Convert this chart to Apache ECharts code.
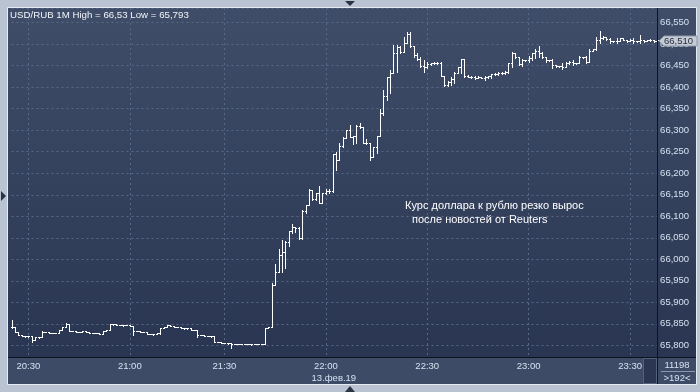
<!DOCTYPE html>
<html><head><meta charset="utf-8">
<script src="https://cdn.jsdelivr.net/npm/echarts@6/dist/echarts.min.js"></script>
<style>html,body{margin:0;padding:0;background:#b9c3d1;overflow:hidden}#c{width:700px;height:392px}</style>
</head><body><div id="c"></div>
<script>
// ---- data ----
const titleText = "USD/RUB 1M High = 66,53 Low = 65,793";
const noteLine1 = "Курс доллара к рублю резко вырос";
const noteLine2 = "после новостей от Reuters";
const dateLabel = "13.фев.19";
const totalCount = "11198";
const visibleCount = ">192<";
const startTime = "20:25";
const skippedMinutes = ["21:14", "21:23"];
const barCount = 192;
const tickLabels = ["20:30", "21:00", "21:30", "22:00", "22:30", "23:00", "23:30"];

const openV = [
65.842,65.842,65.831,65.824,65.821,65.821,65.821,65.812,65.819,65.819,
65.831,65.831,65.829,65.828,65.828,65.835,65.842,65.849,65.833,65.833,
65.831,65.831,65.833,65.831,65.829,65.828,65.828,65.826,65.833,65.835,
65.849,65.849,65.847,65.847,65.847,65.847,65.845,65.833,65.833,65.831,
65.831,65.826,65.826,65.826,65.828,65.840,65.842,65.847,65.845,65.842,
65.842,65.840,65.840,65.840,65.835,65.835,65.824,65.824,65.821,65.821,
65.821,65.807,65.807,65.805,65.805,65.805,65.803,65.803,65.803,65.803,
65.802,65.803,65.802,65.803,65.802,65.803,65.840,65.842,65.940,65.970,
66.010,66.017,66.040,66.066,66.075,66.073,66.049,66.112,66.126,66.161,
66.140,66.154,66.131,66.154,66.159,66.159,66.245,66.231,66.263,66.282,
66.300,66.284,66.286,66.310,66.308,66.270,66.270,66.238,66.261,66.286,
66.340,66.380,66.424,66.433,66.480,66.493,66.482,66.503,66.524,66.496,
66.475,66.466,66.449,66.447,66.454,66.456,66.456,66.456,66.426,66.405,
66.412,66.419,66.433,66.447,66.466,66.426,66.424,66.424,66.421,66.424,
66.421,66.424,66.426,66.431,66.431,66.433,66.433,66.435,66.456,66.480,
66.470,66.454,66.463,66.463,66.468,66.480,66.484,66.480,66.470,66.463,
66.463,66.452,66.449,66.449,66.447,66.456,66.459,66.456,66.456,66.470,
66.470,66.459,66.484,66.489,66.510,66.514,66.517,66.512,66.507,66.507,
66.507,66.514,66.510,66.507,66.510,66.507,66.507,66.510,66.507,66.510,
66.510,66.507];
const highV = [
65.859,65.842,65.831,65.824,65.822,65.822,65.821,65.819,65.819,65.833,
65.832,65.831,65.829,65.829,65.835,65.842,65.852,65.849,65.834,65.833,
65.832,65.833,65.833,65.831,65.829,65.829,65.828,65.833,65.835,65.849,
65.850,65.849,65.848,65.847,65.848,65.847,65.845,65.834,65.833,65.831,
65.831,65.827,65.826,65.828,65.840,65.842,65.847,65.847,65.845,65.843,
65.842,65.841,65.840,65.840,65.836,65.835,65.824,65.824,65.822,65.821,
65.821,65.808,65.807,65.806,65.805,65.805,65.804,65.803,65.804,65.803,
65.803,65.803,65.803,65.803,65.803,65.840,65.842,65.945,65.989,66.024,
66.045,66.042,66.066,66.082,66.075,66.075,66.114,66.126,66.163,66.161,
66.154,66.170,66.154,66.163,66.163,66.245,66.249,66.270,66.284,66.300,
66.312,66.286,66.312,66.317,66.308,66.280,66.270,66.261,66.286,66.349,
66.393,66.424,66.440,66.498,66.498,66.496,66.517,66.528,66.528,66.496,
66.480,66.470,66.463,66.459,66.456,66.459,66.459,66.459,66.426,66.415,
66.424,66.435,66.447,66.466,66.466,66.428,66.426,66.426,66.426,66.424,
66.426,66.426,66.431,66.433,66.435,66.435,66.438,66.456,66.482,66.480,
66.470,66.466,66.464,66.473,66.480,66.489,66.496,66.482,66.470,66.464,
66.466,66.452,66.450,66.456,66.459,66.461,66.463,66.457,66.473,66.471,
66.473,66.489,66.489,66.517,66.530,66.519,66.517,66.514,66.508,66.514,
66.514,66.514,66.510,66.511,66.514,66.508,66.521,66.510,66.510,66.511,
66.510,66.511];
const lowV = [
65.840,65.830,65.824,65.821,65.820,65.820,65.807,65.812,65.817,65.819,
65.830,65.828,65.828,65.828,65.828,65.835,65.842,65.833,65.833,65.831,
65.831,65.831,65.831,65.828,65.828,65.828,65.826,65.826,65.833,65.835,
65.848,65.847,65.847,65.846,65.847,65.845,65.824,65.833,65.831,65.830,
65.826,65.826,65.825,65.826,65.826,65.840,65.842,65.845,65.842,65.842,
65.840,65.839,65.839,65.835,65.835,65.819,65.823,65.821,65.821,65.820,
65.807,65.807,65.805,65.805,65.804,65.793,65.803,65.802,65.803,65.802,
65.802,65.801,65.802,65.802,65.802,65.803,65.840,65.842,65.940,65.970,
65.970,65.980,66.031,66.061,66.063,66.047,66.047,66.107,66.126,66.138,
66.138,66.131,66.131,66.152,66.154,66.156,66.207,66.231,66.261,66.282,
66.284,66.268,66.270,66.305,66.270,66.268,66.231,66.238,66.247,66.286,
66.335,66.370,66.387,66.433,66.435,66.480,66.482,66.503,66.493,66.470,
66.463,66.447,66.435,66.445,66.452,66.454,66.454,66.426,66.403,66.403,
66.405,66.410,66.433,66.433,66.424,66.424,66.421,66.419,66.421,66.421,
66.417,66.421,66.421,66.429,66.428,66.431,66.431,66.433,66.447,66.468,
66.452,66.449,66.462,66.459,66.463,66.468,66.470,66.468,66.459,66.461,
66.445,66.447,66.448,66.442,66.447,66.454,66.452,66.455,66.456,66.468,
66.456,66.459,66.484,66.487,66.503,66.512,66.510,66.503,66.506,66.503,
66.507,66.509,66.506,66.507,66.503,66.505,66.503,66.506,66.507,66.508,
66.506,66.507];
const closeV = [
65.842,65.831,65.824,65.821,65.821,65.821,65.812,65.819,65.819,65.831,
65.831,65.829,65.828,65.828,65.835,65.842,65.849,65.833,65.833,65.831,
65.831,65.833,65.831,65.829,65.828,65.828,65.826,65.833,65.835,65.849,
65.849,65.847,65.847,65.847,65.847,65.845,65.833,65.833,65.831,65.831,
65.826,65.826,65.826,65.828,65.840,65.842,65.847,65.845,65.842,65.842,
65.840,65.840,65.840,65.835,65.835,65.824,65.824,65.821,65.821,65.821,
65.807,65.807,65.805,65.805,65.805,65.803,65.803,65.803,65.803,65.802,
65.803,65.802,65.803,65.802,65.803,65.840,65.842,65.940,65.970,66.010,
66.017,66.040,66.066,66.075,66.073,66.049,66.112,66.126,66.161,66.140,
66.154,66.131,66.154,66.159,66.159,66.245,66.231,66.263,66.282,66.300,
66.284,66.286,66.310,66.308,66.270,66.270,66.238,66.261,66.286,66.340,
66.380,66.424,66.433,66.480,66.493,66.482,66.503,66.524,66.496,66.475,
66.466,66.449,66.447,66.454,66.456,66.456,66.456,66.426,66.405,66.412,
66.419,66.433,66.447,66.466,66.426,66.424,66.424,66.421,66.424,66.421,
66.424,66.426,66.431,66.431,66.433,66.433,66.435,66.456,66.480,66.470,
66.454,66.463,66.463,66.468,66.480,66.484,66.480,66.470,66.463,66.463,
66.452,66.449,66.449,66.447,66.456,66.459,66.456,66.456,66.470,66.470,
66.459,66.484,66.489,66.510,66.514,66.517,66.512,66.507,66.507,66.507,
66.514,66.510,66.507,66.510,66.507,66.507,66.510,66.507,66.510,66.510,
66.507,66.510];

// ---- categories (one per minute bar) ----
function buildCategories() {
  const out = [];
  let [h, m] = startTime.split(':').map(Number);
  while (out.length < barCount) {
    const s = String(h).padStart(2, '0') + ':' + String(m).padStart(2, '0');
    if (!skippedMinutes.includes(s)) out.push(s);
    m++; if (m === 60) { m = 0; h++; }
  }
  return out;
}
const categories = buildCategories();
const ohlc = categories.map((c, i) => [i, openV[i], highV[i], lowV[i], closeV[i]]);

const FONT = '"Liberation Sans", Arial, sans-serif';
const LABEL_COLOR = '#d6e1f1';
const isTick = (idx, val) => tickLabels.includes(categories[idx] !== undefined ? categories[idx] : val);

function renderBar(params, api) {
  const i = api.value(0);
  const pO = api.coord([i, api.value(1)]);
  const pH = api.coord([i, api.value(2)]);
  const pL = api.coord([i, api.value(3)]);
  const pC = api.coord([i, api.value(4)]);
  const x = Math.round(pO[0]) - 0;
  const yh = Math.round(pH[1]), yl = Math.round(pL[1]);
  const yo = Math.round(pO[1]), yc = Math.round(pC[1]);
  const st = { fill: '#ffffff' };
  return { type: 'group', children: [
    { type: 'rect', shape: { x: x, y: yh, width: 1, height: Math.max(1, yl - yh + 1) }, style: st },
    { type: 'rect', shape: { x: x - 1, y: yo, width: 1, height: 1 }, style: st },
    { type: 'rect', shape: { x: x + 1, y: yc, width: 1, height: 1 }, style: st }
  ]};
}

const chart = echarts.init(document.getElementById('c'));
const plotGrad = new echarts.graphic.LinearGradient(0, 0, 0, 1, [
  { offset: 0, color: '#3f4d69' }, { offset: 1, color: '#2a3651' }]);

const option = {
  animation: false,
  backgroundColor: 'transparent',
  grid: { left: 11.5, right: 42.9, top: 8, bottom: 35 },
  xAxis: {
    type: 'category', data: categories, boundaryGap: false,
    axisLine: { show: false }, axisTick: { show: false },
    axisLabel: { interval: isTick, color: LABEL_COLOR, fontFamily: FONT, fontSize: 9.5, margin: 4 },
    splitLine: { show: true, interval: isTick, lineStyle: { color: '#586987', type: [2, 3], width: 1 } }
  },
  yAxis: {
    type: 'value', position: 'right', scale: true,
    min: 65.7728, max: 66.5842, splitNumber: 16,
    axisLine: { show: false }, axisTick: { show: false },
    axisLabel: { color: LABEL_COLOR, fontFamily: FONT, fontSize: 9.5, margin: 3,
      showMinLabel: false, showMaxLabel: false,
      formatter: v => v.toFixed(3).replace('.', ',') },
    splitLine: { show: true, lineStyle: { color: '#586987', type: [2, 3], width: 1 } }
  },
  series: [{
    type: 'custom', renderItem: renderBar, data: ohlc,
    encode: { x: 0, y: [1, 2, 3, 4] }, z: 5, clip: false
  }]
};
chart.setOption(option);

function decorations() {
  const last = closeV[closeV.length - 1];
  const ty = Math.round(chart.convertToPixel({ yAxisIndex: 0 }, last));
  const dateX = chart.convertToPixel({ xAxisIndex: 0 }, categories.indexOf('22:00'));
  return [
    // panel backgrounds
    { type: 'rect', z: -20, shape: { x: 8, y: 8, width: 688, height: 376 }, style: { fill: '#3e4b66' } },
    { type: 'rect', z: -19, shape: { x: 8, y: 8, width: 649, height: 349 }, style: { fill: plotGrad } },
    { type: 'rect', z: -19, shape: { x: 658, y: 8, width: 38, height: 349 }, style: { fill: plotGrad } },
    // panel outline
    { type: 'rect', z: 20, shape: { x: 7.5, y: 7.5, width: 689, height: 377 }, style: { fill: null, stroke: '#e6ebf2', lineWidth: 1 } },
    // separators
    { type: 'line', z: 20, shape: { x1: 8, y1: 357.5, x2: 696, y2: 357.5 }, style: { stroke: '#0d1420', lineWidth: 1 } },
    { type: 'line', z: 20, shape: { x1: 657.5, y1: 8, x2: 657.5, y2: 384 }, style: { stroke: '#0d1420', lineWidth: 1 } },
    // small scroll box
    { type: 'rect', z: 20, shape: { x: 643.5, y: 358.5, width: 13, height: 25 }, style: { fill: '#2b3752', stroke: '#56627a', lineWidth: 1 } },
    // frame arrows
    { type: 'polygon', z: 20, shape: { points: [[345, 1], [355, 1], [350, 6]] }, style: { fill: '#2a3346' } },
    { type: 'polygon', z: 20, shape: { points: [[345, 392], [355, 392], [350, 386]] }, style: { fill: '#2a3346' } },
    { type: 'polygon', z: 20, shape: { points: [[1, 191], [1, 201], [6, 196]] }, style: { fill: '#2a3346' } },
    // title
    { type: 'text', z: 20, x: 10, y: 15, style: { text: titleText, fill: '#f2f5fa', font: '9.7px ' + FONT, textVerticalAlign: 'middle' } },
    // annotation
    { type: 'text', z: 20, x: 405, y: 206, style: { text: noteLine1, fill: '#ffffff', font: '11px ' + FONT, textVerticalAlign: 'middle' } },
    { type: 'text', z: 20, x: 412, y: 220, style: { text: noteLine2, fill: '#ffffff', font: '11px ' + FONT, textVerticalAlign: 'middle' } },
    // date under 22:00
    { type: 'text', z: 20, x: dateX + 8, y: 378, style: { text: dateLabel, fill: LABEL_COLOR, font: '9.5px ' + FONT, textAlign: 'center', textVerticalAlign: 'middle' } },
    // counters
    { type: 'text', z: 20, x: 677, y: 365, style: { text: totalCount, fill: LABEL_COLOR, font: '9.5px ' + FONT, textAlign: 'center', textVerticalAlign: 'middle' } },
    { type: 'line', z: 20, shape: { x1: 661, y1: 371.5, x2: 695, y2: 371.5 }, style: { stroke: '#8a96ab', lineWidth: 1 } },
    { type: 'text', z: 20, x: 677, y: 378, style: { text: visibleCount, fill: LABEL_COLOR, font: '9.5px ' + FONT, textAlign: 'center', textVerticalAlign: 'middle' } },
    // last price tag
    { type: 'polygon', z: 25, shape: { points: [[659, ty + 1], [664, ty - 4], [697, ty - 4], [697, ty + 6], [664, ty + 6]] },
      style: { fill: '#c6cbd3', stroke: '#8e98a9', lineWidth: 1 } },
    { type: 'text', z: 26, x: 664, y: ty + 1.5, style: { text: last.toFixed(3).replace('.', ','), fill: '#1d2840', font: '9.5px ' + FONT, textVerticalAlign: 'middle' } }
  ];
}
chart.setOption({ graphic: { elements: decorations() } });
</script>
</body></html>
